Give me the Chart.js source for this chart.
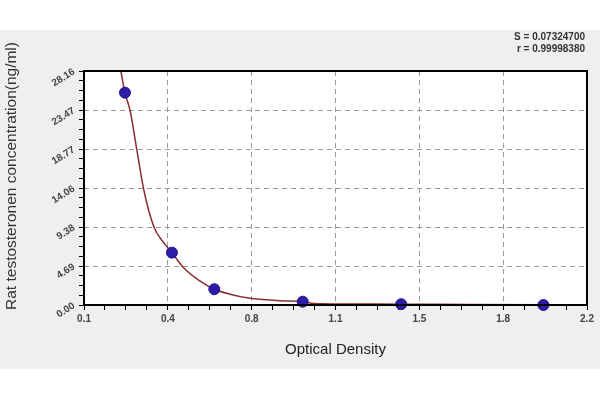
<!DOCTYPE html>
<html>
<head>
<meta charset="utf-8">
<script src="https://cdn.jsdelivr.net/npm/chart.js@4"></script>
<style>
  html, body { margin: 0; padding: 0; background: #fff; }
  #wrap { width: 600px; height: 400px; }
</style>
</head>
<body>
<div id="wrap"><canvas id="curve" width="600" height="400"></canvas></div>
<script>
// standard curve
const pointX = [0.271, 0.467, 0.644, 1.013, 1.424, 2.018]
const pointY = [25.55, 6.30, 1.90, 0.40, 0.10, 0.00]

const curveX = [0.254, 0.271, 0.292, 0.320, 0.348, 0.392, 0.430, 0.467, 0.515, 0.580, 0.644, 0.710, 0.793, 0.918, 1.013, 1.060, 1.200, 1.424, 1.700, 2.018, 2.200]
const curveY = [28.16, 25.55, 23.47, 18.77, 14.08, 9.38, 7.60, 6.30, 4.50, 2.95, 1.90, 1.30, 0.80, 0.52, 0.40, 0.18, 0.12, 0.10, 0.06, 0.03, 0.02]

const xTickLabels = ['0.1', '0.4', '0.8', '1.1', '1.5', '1.8', '2.2']
const yTickLabels = ['0.00', '4.69', '9.38', '14.06', '18.77', '23.47', '28.16']
const fitStats = ['S = 0.07324700', 'r = 0.99998380']
const xTitle = 'Optical Density'
const yTitle = 'Rat testosteronen concentration(ng/ml)'

const xMin = 0.1, xMax = 2.2
const yMin = 0, yMax = 28.16
const MINOR = 4
const FONT = '"Liberation Sans", Arial, sans-serif'

const toXY = (xs, ys) => xs.map((x, i) => ({ x: x, y: ys[i] }))

// major ticks plus 3 minor ones in between
const buildTicks = (labels) => (scale) => {
  const n = (labels.length - 1) * MINOR
  const ticks = []
  for (let i = 0; i <= n; i++) {
    ticks.push({ value: scale.min + i * (scale.max - scale.min) / n })
  }
  scale.ticks = ticks
}
const isMajor = (ctx) => ctx.index % MINOR === 0
const isEdge = (ctx, labels) => ctx.index === 0 || ctx.index === (labels.length - 1) * MINOR

const backdrop = {
  id: 'backdrop',
  beforeDraw(chart) {
    const { ctx, chartArea } = chart
    ctx.save()
    ctx.fillStyle = '#efefef'
    ctx.fillRect(0, 30, 600, 339)
    ctx.fillStyle = '#ffffff'
    ctx.fillRect(chartArea.left, chartArea.top, chartArea.right - chartArea.left, chartArea.bottom - chartArea.top)
    ctx.restore()
  },
  afterDatasetsDraw(chart) {
    const { ctx, chartArea } = chart
    ctx.save()
    ctx.strokeStyle = '#000'
    ctx.lineWidth = 2
    ctx.strokeRect(chartArea.left, chartArea.top, chartArea.right - chartArea.left, chartArea.bottom - chartArea.top)

    ctx.fillStyle = '#333'
    ctx.font = 'bold 10px ' + FONT
    ctx.textAlign = 'right'
    ctx.textBaseline = 'middle'
    fitStats.forEach((t, i) => ctx.fillText(t, 585, 37 + i * 12))

    // y axis title
    ctx.translate(12, 176)
    ctx.rotate(-Math.PI / 2)
    ctx.textAlign = 'center'
    ctx.fillStyle = '#333'
    ctx.font = '15.5px ' + FONT
    ctx.fillText(yTitle, 0, 0)
    ctx.restore()
  }
}

const tickFont = { family: FONT, size: 10, weight: 'bold' }

new Chart(document.getElementById('curve').getContext('2d'), {
  type: 'scatter',
  data: {
    datasets: [
      {
        label: 'fit',
        data: toXY(curveX, curveY),
        showLine: true,
        borderColor: '#8a2e2e',
        borderWidth: 1.5,
        pointRadius: 0,
        cubicInterpolationMode: 'monotone',
        order: 2
      },
      {
        label: 'standards',
        data: toXY(pointX, pointY),
        pointRadius: 5.5,
        pointBackgroundColor: '#2f1ca6',
        pointBorderColor: '#22138a',
        pointBorderWidth: 1,
        clip: false,
        order: 1
      }
    ]
  },
  options: {
    responsive: false,
    animation: false,
    layout: { padding: { left: 0, top: 71, right: 13, bottom: 31 } },
    plugins: { legend: { display: false }, tooltip: { enabled: false } },
    scales: {
      x: {
        type: 'linear',
        min: xMin,
        max: xMax,
        afterBuildTicks: buildTicks(xTickLabels),
        afterFit: (s) => { s.height = 64 },
        ticks: {
          autoSkip: false,
          maxRotation: 0,
          padding: 3,
          color: '#444',
          font: tickFont,
          callback: (v, i) => i % MINOR === 0 ? xTickLabels[i / MINOR] : ''
        },
        grid: {
          color: (ctx) => isMajor(ctx) && !isEdge(ctx, xTickLabels) ? '#9a9a9a' : 'rgba(0,0,0,0)',
          lineWidth: 1,
          tickColor: '#000',
          tickLength: 5
        },
        border: { display: false, dash: [5, 4] },
        title: {
          display: true,
          text: xTitle,
          color: '#222',
          font: { family: FONT, size: 15 },
          padding: { top: 0, bottom: 10 }
        }
      },
      y: {
        type: 'linear',
        min: yMin,
        max: yMax,
        afterBuildTicks: buildTicks(yTickLabels),
        afterFit: (s) => { s.width = 84 },
        ticks: {
          autoSkip: false,
          minRotation: 32,
          maxRotation: 32,
          padding: 5,
          color: '#444',
          font: tickFont,
          callback: (v, i) => i % MINOR === 0 ? yTickLabels[i / MINOR] : ''
        },
        grid: {
          color: (ctx) => isMajor(ctx) && !isEdge(ctx, yTickLabels) ? '#9a9a9a' : 'rgba(0,0,0,0)',
          lineWidth: 1,
          tickColor: '#000',
          tickLength: 5
        },
        border: { display: false, dash: [5, 4] }
      }
    }
  },
  plugins: [backdrop]
})
</script>
</body>
</html>
